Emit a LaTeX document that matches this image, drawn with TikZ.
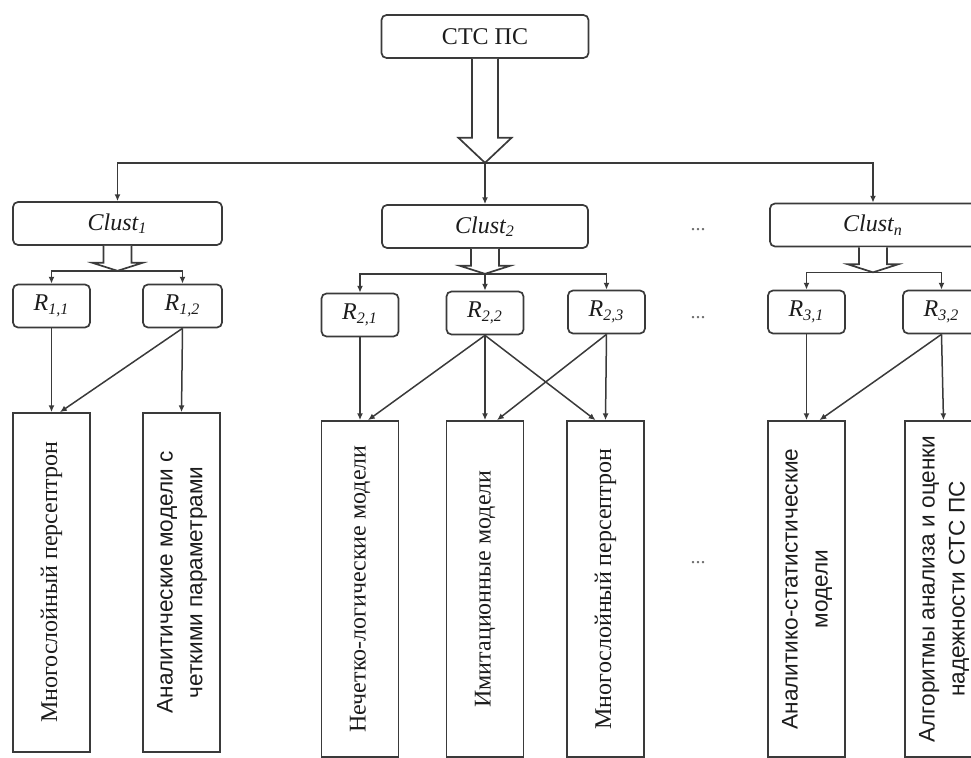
\documentclass[tikz,border=0pt]{standalone}
\usepackage{fontspec}
\setmainfont{Liberation Serif}
\setsansfont{Liberation Sans}
\usepackage{graphicx}
\usepackage{tikz}
\usetikzlibrary{arrows.meta,calc,positioning}
\definecolor{ink}{HTML}{1C1C1C}
\definecolor{lnc}{HTML}{3A3A3A}
\definecolor{dotc}{HTML}{6E6E6E}
\tikzset{
  box/.style={draw=lnc,line width=0.85pt,rounded corners=2.5pt,inner sep=0pt,minimum height=21.5pt,text=ink,font=\fontsize{12}{14}\selectfont},
  rbox/.style={box,minimum width=38.5pt},
  mbox/.style={draw=lnc,line width=0.85pt,inner sep=0pt,minimum width=38.5pt,text=ink},
  mtxt/.style={font=\fontsize{12}{15}\selectfont},
  stxt/.style={font=\sffamily\fontsize{11.3}{15}\selectfont},
  arr/.style={draw=lnc,line width=0.75pt,-{Latex[length=3.4pt,width=3pt]}},
  hollow/.style={draw=lnc,line width=0.85pt,fill=white,line join=miter},
  dotsl/.style={text=dotc,font=\fontsize{10}{12}\selectfont},
}

\begin{document}
\begin{tikzpicture}[x=0.5pt,y=-0.5pt]
  \useasboundingbox (0,0) rectangle (971,758);
  % ---------- root and clusters ----------
  \node[box,minimum width=103.5pt] (stc) at (485,36.5) {СТС ПС};
  \node[box,minimum width=104.5pt] (cl1) at (117.5,223.5) {\textit{Clust\textsubscript{1}}};
  \node[box,minimum width=103pt]   (cl2) at (485,226.5)   {\textit{Clust\textsubscript{2}}};
  \node[box,minimum width=103pt]   (cln) at (873,225)     {\textit{Clust\textsubscript{n}}};
  \node[dotsl] (dots1) at (698,230) {...};
  % ---------- rules ----------
  \node[rbox] (r11) at (51.5,306)  {\textit{R\textsubscript{1,1}}};
  \node[rbox,minimum width=39.5pt] (r12) at (182.5,306) {\textit{R\textsubscript{1,2}}};
  \node[rbox] (r21) at (360,315)   {\textit{R\textsubscript{2,1}}};
  \node[rbox] (r22) at (485,313)   {\textit{R\textsubscript{2,2}}};
  \node[rbox] (r23) at (606.5,312) {\textit{R\textsubscript{2,3}}};
  \node[rbox] (r31) at (806.5,312) {\textit{R\textsubscript{3,1}}};
  \node[rbox] (r32) at (941.5,312) {\textit{R\textsubscript{3,2}}};
  \node[dotsl] (dots2) at (698,318) {...};
  % ---------- models ----------
  \node[mbox,mtxt,minimum height=169.5pt] (m1) at (51.5,582.5)
     {\rotatebox{90}{Многослойный персептрон}};
  \node[mbox,stxt,minimum height=169.5pt] (m2) at (181.5,582.5)
     {\rotatebox{90}{\begin{tabular}{@{}c@{}}Аналитические модели с\\четкими параметрами\end{tabular}}};
  \node[mbox,mtxt,minimum height=168pt] (m3) at (360,589)
     {\rotatebox{90}{Нечетко-логические модели}};
  \node[mbox,mtxt,minimum height=168pt] (m4) at (485,589)
     {\rotatebox{90}{Имитационные модели}};
  \node[mbox,mtxt,minimum height=168pt] (m5) at (605.5,589)
     {\rotatebox{90}{Многослойный персептрон}};
  \node[mbox,stxt,minimum height=168pt] (m6) at (806.5,589)
     {\rotatebox{90}{\begin{tabular}{@{}c@{}}Аналитико-статистические\\модели\end{tabular}}};
  \node[mbox,stxt,minimum height=168pt] (m7) at (943.5,589)
     {\rotatebox{90}{\begin{tabular}{@{}c@{}}Алгоритмы анализа и оценки\\надежности СТС ПС\end{tabular}}};
  \node[dotsl] (dots3) at (698,563) {...};
  % ---------- hollow arrows ----------
  \draw[hollow] ($(stc.south)+(-13,0)$) -- ++(0,79) -- ++(-13.5,0) -- ($(stc.south)+(0,104)$)
     -- ++(26.5,-25) -- ++(-13.5,0) -- ++(0,-79);
  \foreach \c in {cl1,cl2,cln}
    \draw[hollow] ($(\c.south)+(-14,0)$) -- ++(0,17) -- ++(-11,0) -- ($(\c.south)+(0,25)$)
       -- ++(25,-8) -- ++(-11,0) -- ++(0,-17);
  % ---------- branches ----------
  \coordinate (bus) at ($(stc.south)+(0,104)$);
  \coordinate (b1) at ($(cl1.south)+(0,25)$);
  \coordinate (b2) at ($(cl2.south)+(0,25)$);
  \coordinate (bn) at ($(cln.south)+(0,25)$);
  \draw[arr] (bus) -| (cl1.north);
  \draw[arr] (bus) -- (cl2.north);
  \draw[arr] (bus) -| (cln.north);
  \draw[arr] (b1) -| (r11.north);
  \draw[arr] (b1) -| (r12.north);
  \draw[arr] (b2) -| (r21.north);
  \draw[arr] (b2) -- (r22.north);
  \draw[arr] (b2) -| (r23.north);
  \draw[arr] (bn) -| (r31.north);
  \draw[arr] (bn) -| (r32.north);
  % ---------- rules to models ----------
  \draw[arr] (r11.south) -- (m1.north);
  \draw[arr] (r12.south) -- ($(m1.north)+(8.5,0)$);
  \draw[arr] (r12.south) -- (m2.north);
  \draw[arr] (r21.south) -- (m3.north);
  \draw[arr] (r22.south) -- ($(m3.north)+(8,0)$);
  \draw[arr] (r22.south) -- (m4.north);
  \draw[arr] (r22.south) -- ($(m5.north)+(-10,0)$);
  \draw[arr] (r23.south) -- ($(m4.north)+(12,0)$);
  \draw[arr] (r23.south) -- (m5.north);
  \draw[arr] (r31.south) -- (m6.north);
  \draw[arr] (r32.south) -- ($(m6.north)+(13,0)$);
  \draw[arr] (r32.south) -- (m7.north);
\end{tikzpicture}
\end{document}
